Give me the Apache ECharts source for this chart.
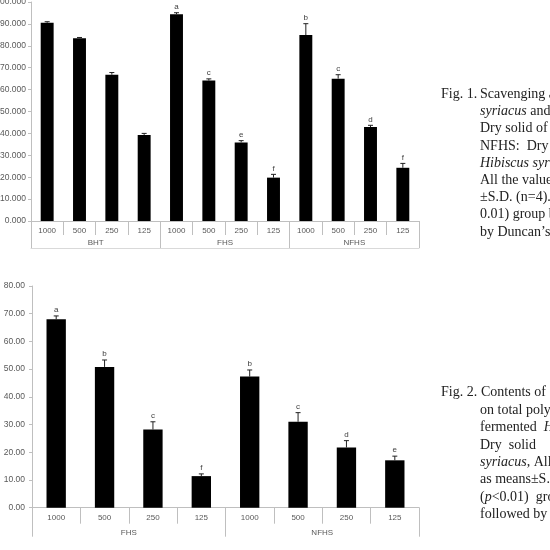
<!DOCTYPE html>
<html lang="en">
<head>
<meta charset="UTF-8">
<title>Fig. 1 / Fig. 2</title>
<script src="https://cdn.jsdelivr.net/npm/echarts@6/dist/echarts.min.js"></script>
<style>
    html, body { margin: 0; padding: 0; background: #fff; }
    #container { width: 550px; height: 550px; }
</style>
</head>
<body>
<div id="container"></div>
<script type="text/javascript">
    // Fig. 1 - 소거 활성 (BHT / FHS / NFHS)
    let doses1 = ['1000', '500', '250', '125', '1000', '500', '250', '125', '1000', '500', '250', '125'];
    let groups1 = ['BHT', 'FHS', 'NFHS'];
    let values1 = [90.5, 83.5, 66.8, 39.3, 94.4, 64.1, 35.9, 19.8, 84.9, 65.0, 42.9, 24.3];
    let errors1 = [0.5, 0.3, 1.0, 0.7, 0.7, 0.8, 0.8, 1.5, 5.2, 1.8, 0.8, 2.0];
    let letters1 = ['', '', '', '', 'a', 'c', 'e', 'f', 'b', 'c', 'd', 'f'];
    let ticks1 = [0, 10, 20, 30, 40, 50, 60, 70, 80, 90, 100];

    // Fig. 2 - total polyphenol (FHS / NFHS)
    let doses2 = ['1000', '500', '250', '125', '1000', '500', '250', '125'];
    let groups2 = ['FHS', 'NFHS'];
    let values2 = [68.0, 50.8, 28.2, 11.4, 47.3, 31.0, 21.7, 17.1];
    let errors2 = [1.2, 2.5, 2.8, 0.8, 2.4, 3.3, 2.5, 1.5];
    let letters2 = ['a', 'b', 'c', 'f', 'b', 'c', 'd', 'e'];
    let ticks2 = [0, 10, 20, 30, 40, 50, 60, 70, 80];

    let lineColor = '#bfbfbf';
    let labelColor = '#595959';
    let sans = 'Liberation Sans';
    let serif = 'Liberation Serif';

    function errorSeries(xIdx, yIdx, values, errors, letters) {
        return {
            type: 'custom',
            xAxisIndex: xIdx,
            yAxisIndex: yIdx,
            silent: true,
            z: 5,
            data: values.map(function (v, i) { return [i, v, errors[i]]; }),
            renderItem: function (params, api) {
                let i = api.value(0);
                let v = api.value(1);
                let e = api.value(2);
                let base = api.coord([i, v]);
                let top = api.coord([i, v + e]);
                let children = [
                    { type: 'line', shape: { x1: base[0], y1: base[1], x2: top[0], y2: top[1] },
                      style: { stroke: '#222', lineWidth: 1 } },
                    { type: 'line', shape: { x1: top[0] - 2.5, y1: top[1], x2: top[0] + 2.5, y2: top[1] },
                      style: { stroke: '#222', lineWidth: 1 } }
                ];
                let t = letters[params.dataIndex];
                if (t) {
                    children.push({
                        type: 'text',
                        style: { text: t, x: top[0], y: top[1] - 2, align: 'center', verticalAlign: 'bottom',
                                 fill: '#404040', font: '8px ' + sans }
                    });
                }
                return { type: 'group', children: children };
            }
        };
    }

    // 캡션 텍스트 (줄 단위)
    let captionLines = [
        [441, 95, 'Fig. 1.'], [480, 95, 'Scavenging a'],
        [480, 112, '{i|syriacus} and'],
        [480, 129, 'Dry solid of'],
        [480, 147, 'NFHS:  Dry'],
        [480, 164, '{i|Hibiscus syria}'],
        [480, 181, 'All the value'],
        [480, 198, '±S.D. (n=4).'],
        [480, 215, '0.01) group b'],
        [480, 233, 'by Duncan\u2019s'],

        [441, 393, 'Fig. 2.'], [481, 393, 'Contents of'],
        [480, 411, 'on total poly'],
        [480, 428, 'fermented  {i|H}'],
        [480, 446, 'Dry  solid'],
        [480, 463, '{i|syriacus}, All'],
        [480, 480, 'as means±S.D'],
        [480, 498, '({i|p}<0.01)  gro'],
        [480, 515, 'followed by']
    ];

    let graphics = captionLines.map(function (w) {
        return {
            type: 'text',
            left: w[0],
            top: w[1] - 8,
            silent: true,
            style: {
                text: w[2],
                fill: '#222',
                font: '14px ' + serif,
                rich: { i: { fontStyle: 'italic', fontFamily: serif, fontSize: 14, fill: '#222' } }
            }
        };
    });

    let dom = document.getElementById('container');
    let myChart = echarts.init(dom, null, { renderer: 'canvas' });

    function tick(len) {
        return { show: true, interval: 0, alignWithLabel: false, length: len, lineStyle: { color: lineColor, width: 1 } };
    }

    let option = {
        animation: false,
        backgroundColor: '#fff',
        grid: [
            { left: 31, top: 2, width: 388, height: 219, outerBoundsMode: 'none', containLabel: false },
            { left: 32, top: 286, width: 387, height: 221.7, outerBoundsMode: 'none', containLabel: false }
        ],
        xAxis: [
            {   // 0: 농도 (Fig.1)
                type: 'category', gridIndex: 0, position: 'bottom', data: doses1, boundaryGap: true,
                axisLine: { show: true, lineStyle: { color: lineColor } },
                axisTick: tick(14),
                axisLabel: { interval: 0, margin: 6, fontSize: 8, fontFamily: sans, color: labelColor }
            },
            {   // 1: 그룹 (Fig.1)
                type: 'category', gridIndex: 0, position: 'bottom', data: groups1, boundaryGap: true,
                axisLine: { show: true, lineStyle: { color: lineColor, opacity: 0 } },
                axisTick: tick(27),
                axisLabel: { interval: 0, margin: 18, fontSize: 8, fontFamily: sans, color: labelColor }
            },
            {   // 2: 표 하단선 (Fig.1)
                type: 'category', gridIndex: 0, position: 'bottom', data: groups1, offset: 27,
                axisLine: { show: true, lineStyle: { color: '#d9d9d9' } },
                axisTick: { show: false }, axisLabel: { show: false }
            },
            {   // 3: 농도 (Fig.2)
                type: 'category', gridIndex: 1, position: 'bottom', data: doses2, boundaryGap: true,
                axisLine: { show: true, lineStyle: { color: lineColor } },
                axisTick: tick(16),
                axisLabel: { interval: 0, margin: 6, fontSize: 8, fontFamily: sans, color: labelColor }
            },
            {   // 4: 그룹 (Fig.2)
                type: 'category', gridIndex: 1, position: 'bottom', data: groups2, boundaryGap: true,
                axisLine: { show: true, lineStyle: { color: lineColor, opacity: 0 } },
                axisTick: tick(29),
                axisLabel: { interval: 0, margin: 21, fontSize: 8, fontFamily: sans, color: labelColor }
            }
        ],
        yAxis: [
            {
                type: 'value', gridIndex: 0,
                min: ticks1[0], max: ticks1[ticks1.length - 1], interval: 10,
                splitLine: { show: false },
                axisLine: { show: true, lineStyle: { color: lineColor } },
                axisTick: { show: true, length: 3, lineStyle: { color: lineColor } },
                axisLabel: { margin: 5, fontSize: 8.5, fontFamily: sans, color: labelColor,
                             formatter: function (v) { return v.toFixed(3); } }
            },
            {
                type: 'value', gridIndex: 1,
                min: ticks2[0], max: ticks2[ticks2.length - 1], interval: 10,
                splitLine: { show: false },
                axisLine: { show: true, lineStyle: { color: lineColor } },
                axisTick: { show: true, length: 3, lineStyle: { color: lineColor } },
                axisLabel: { margin: 7, fontSize: 8.5, fontFamily: sans, color: labelColor,
                             formatter: function (v) { return v.toFixed(2); } }
            }
        ],
        series: [
            {
                name: 'Fig1', type: 'bar', xAxisIndex: 0, yAxisIndex: 0,
                barWidth: '40%', itemStyle: { color: '#000' }, data: values1
            },
            errorSeries(0, 0, values1, errors1, letters1),
            {
                name: 'Fig2', type: 'bar', xAxisIndex: 3, yAxisIndex: 1,
                barWidth: '40%', itemStyle: { color: '#000' }, data: values2
            },
            errorSeries(3, 1, values2, errors2, letters2)
        ],
        graphic: graphics
    };

    myChart.setOption(option);
</script>
</body>
</html>
